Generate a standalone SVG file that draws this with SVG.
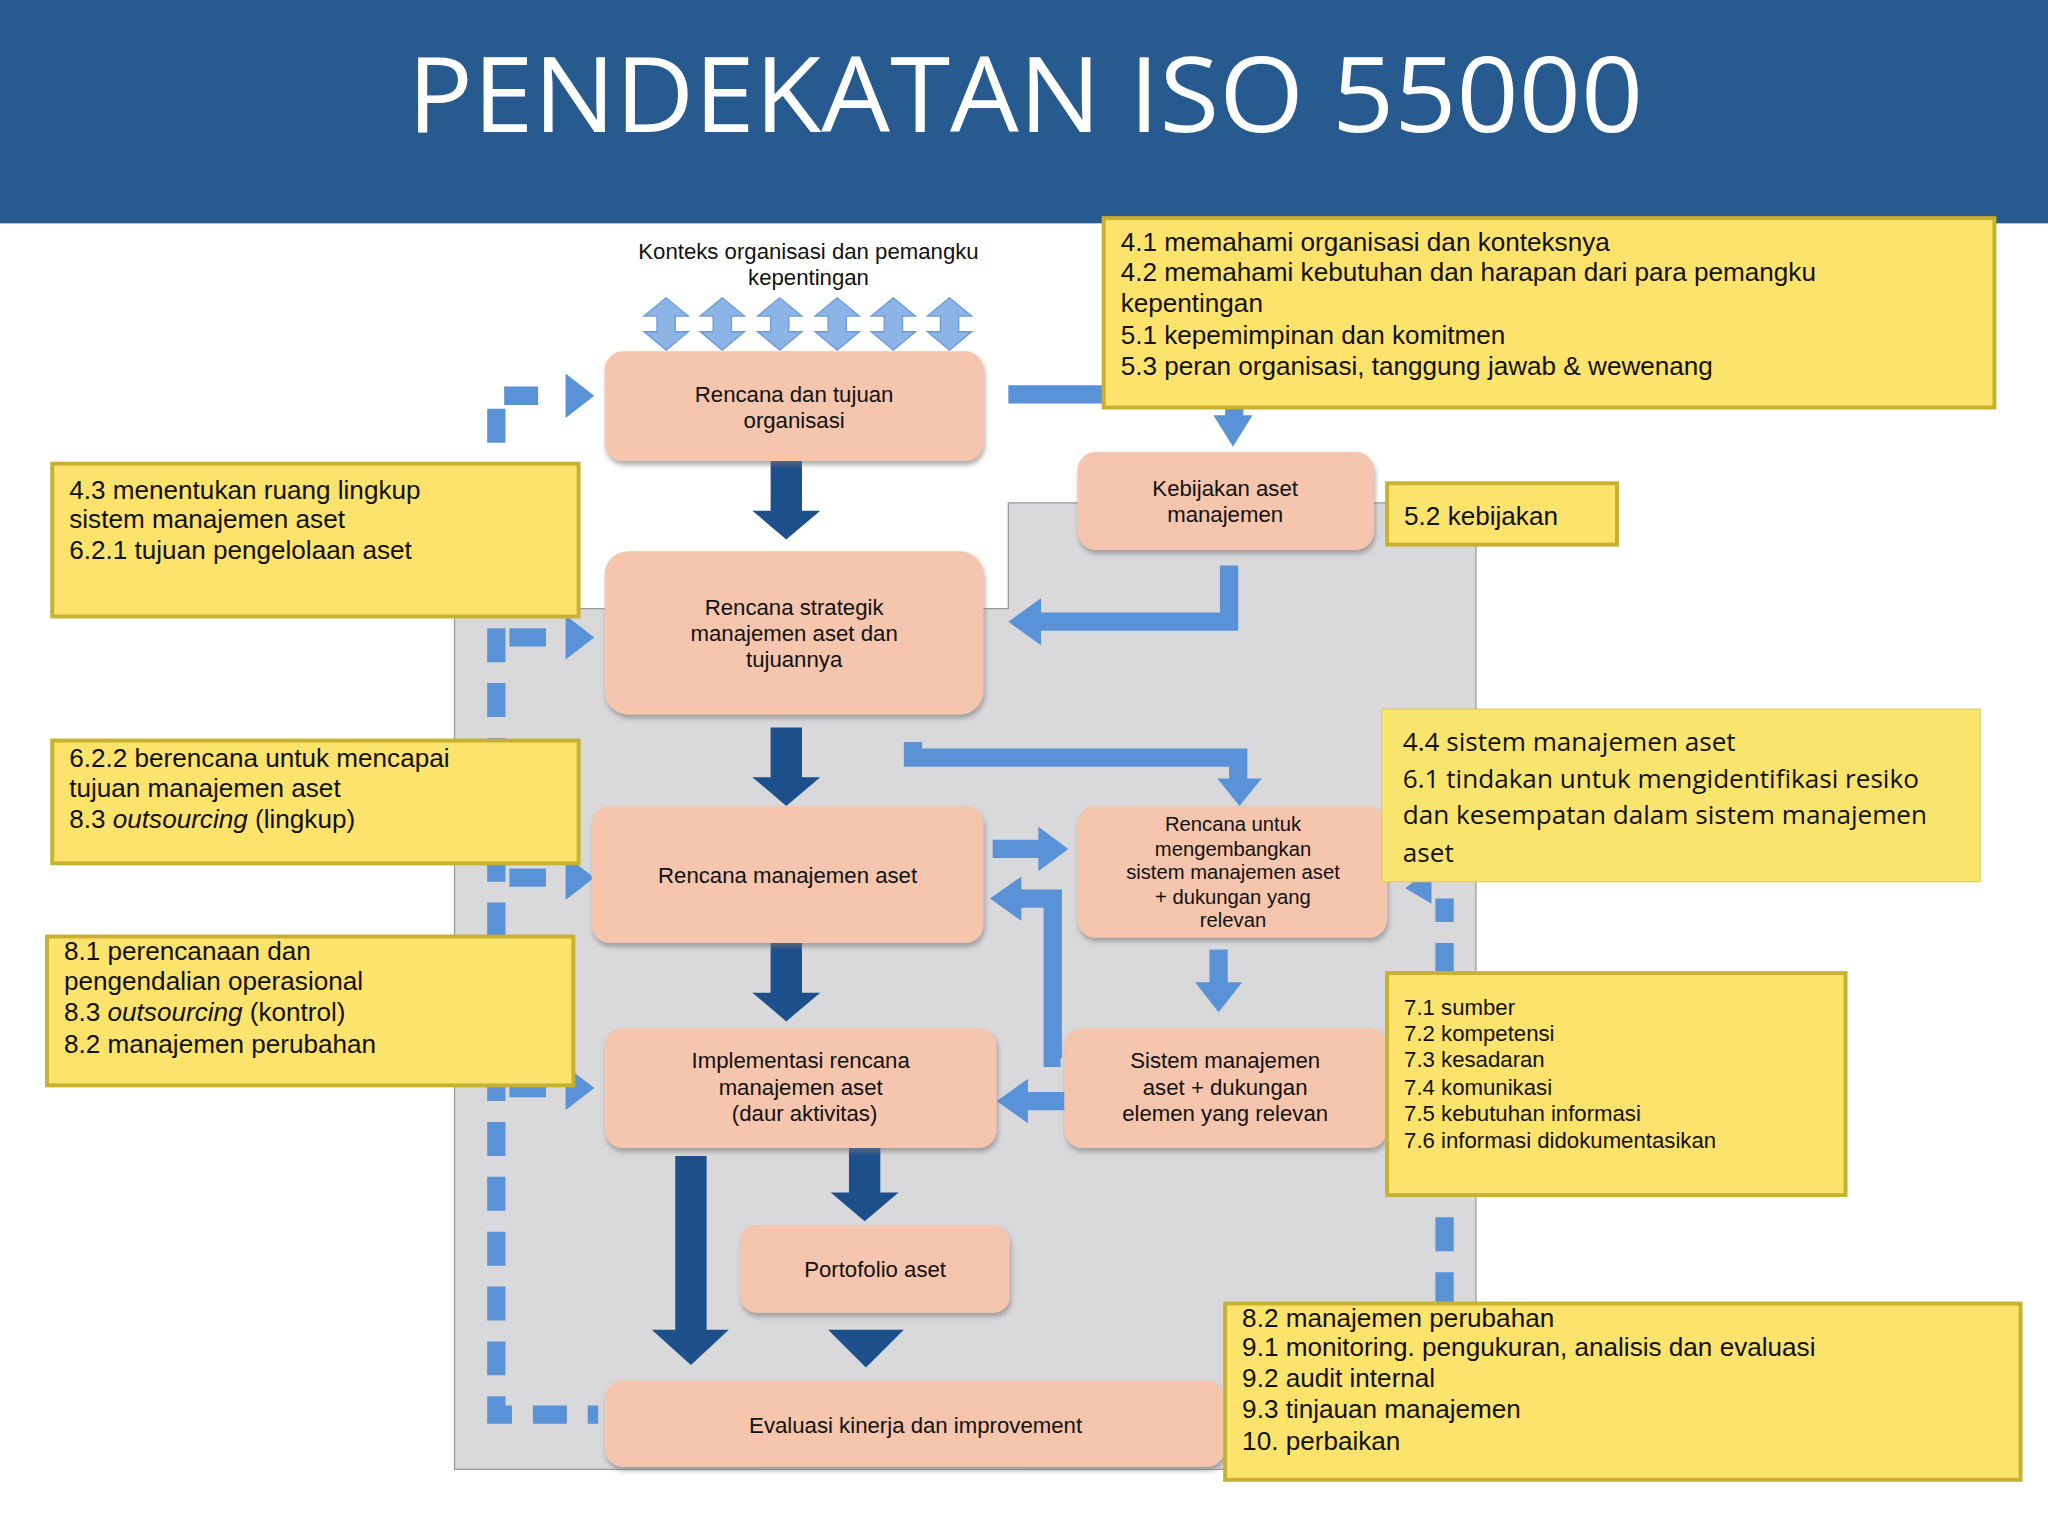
<svg xmlns="http://www.w3.org/2000/svg" width="2048" height="1536" viewBox="0 0 2048 1536">
<defs>
<style>
.t{font-family:"Liberation Sans",Arial,sans-serif;font-size:17px;fill:#111;text-anchor:middle}
.y{font-family:"Liberation Sans",Arial,sans-serif;font-size:20px;fill:#111}
.n{fill:#f5c5ad;filter:url(#sh)}
.b{fill:#fce36c;stroke:#c8b030;stroke-width:3}
.lb{fill:none;stroke:#5a92d8;stroke-width:14}
.ds{fill:none;stroke:#5a92d8;stroke-width:14;stroke-dasharray:26 16}
.hd{fill:#5a92d8}
.dk{fill:#1d4f8a}
</style>
<filter id="sh" x="-10%" y="-10%" width="120%" height="130%"><feDropShadow dx="1" dy="3" stdDeviation="2" flood-color="#777" flood-opacity="0.6"/></filter>
<path id="dbl" d="M0,-20 L-17,-6 L-7,-6 L-7,6 L-17,6 L0,20 L17,6 L7,6 L7,-6 L17,-6 Z" fill="#8db4e6" stroke="#6d9ad6" stroke-width="1"/>
<path id="da" d="M-12,0 L12,0 L12,38 L26,38 L0,60 L-26,38 L-12,38 Z" class="dk"/>
</defs>
<rect width="2048" height="1536" fill="#fff"/>
<g transform="scale(1.30612)">
<rect x="0" y="0" width="1568" height="171" fill="#275a8e"/>
<text x="785" y="101" font-family="'Open Sans','Noto Sans',sans-serif" font-size="80" fill="#fff" text-anchor="middle" textLength="946" lengthAdjust="spacingAndGlyphs">PENDEKATAN ISO 55000</text>
<polygon points="772,385 1130,385 1130,1125 348,1125 348,466 772,466" fill="#d9d9dc" stroke="#9a9a9a" stroke-width="1"/>
<text class="t" x="619" y="198">Konteks organisasi dan pemangku</text>
<text class="t" x="619" y="218">kepentingan</text>
<g id="ctx-arrows"><use href="#dbl" x="510" y="248"/><use href="#dbl" x="553" y="248"/><use href="#dbl" x="597" y="248"/><use href="#dbl" x="641" y="248"/><use href="#dbl" x="684" y="248"/><use href="#dbl" x="727" y="248"/></g>
<g id="connectors">
<use href="#da" x="602" y="353"/><use href="#da" x="602" y="557"/><use href="#da" x="602" y="722"/>
<path d="M517,885 L541,885 L541,1018 L558,1018 L529,1045 L499,1018 L517,1018 Z" class="dk"/>
<use href="#da" x="662" y="885" transform="translate(0,-10)"/>
<path d="M650,1018 L674,1018 L692,1018 L663,1047 L634,1018 Z" class="dk"/>
<polyline class="lb" points="772,302 945,302 945,322"/><path class="hd" d="M929,318 L959,318 L944,342 Z"/>
<polyline class="lb" points="941,433 941,476 795,476"/><path class="hd" d="M797,458 L797,494 L772,476 Z"/>
<polyline class="lb" points="699,568 699,580 948,580 948,598"/><path class="hd" d="M932,596 L966,596 L949,617 Z"/>
<line class="lb" x1="760" y1="650" x2="797" y2="650"/><path class="hd" d="M795,633 L795,667 L818,650 Z"/>
<polyline class="lb" points="812,810 806,810 806,688 780,688"/><path class="hd" d="M782,671 L782,705 L758,688 Z"/>
<line class="lb" x1="933" y1="727" x2="933" y2="755"/><path class="hd" d="M915,752 L951,752 L933,775 Z"/>
<line class="lb" x1="815" y1="843" x2="785" y2="843"/><path class="hd" d="M787,826 L787,860 L763,843 Z"/>
<polyline class="ds" points="412,303 380,303 380,1083 458,1083"/>
<path class="hd" d="M433,286 L455,303 L433,320 Z"/>
<line class="lb" x1="390" y1="488" x2="418" y2="488"/><path class="hd" d="M433,471 L455,488 L433,505 Z"/>
<line class="lb" x1="390" y1="672" x2="418" y2="672"/><path class="hd" d="M433,655 L455,672 L433,689 Z"/>
<line class="lb" x1="390" y1="833" x2="418" y2="833"/><path class="hd" d="M433,816 L455,833 L433,850 Z"/>
<polyline class="ds" points="1106,1000 1106,688"/>
<path class="hd" d="M1076,680 L1096,664 L1096,692 Z"/>
</g>
<g id="n1"><rect class="n" x="463" y="269" width="290" height="84" rx="14"/><text class="t" x="608" y="308">Rencana dan tujuan</text><text class="t" x="608" y="328">organisasi</text></g>
<g id="n2"><rect class="n" x="825" y="346" width="227" height="75" rx="14"/><text class="t" x="938" y="380">Kebijakan aset</text><text class="t" x="938" y="400">manajemen</text></g>
<g id="n3"><rect class="n" x="463" y="422" width="290" height="125" rx="18"/><text class="t" x="608" y="471">Rencana strategik</text><text class="t" x="608" y="491">manajemen aset dan</text><text class="t" x="608" y="511">tujuannya</text></g>
<g id="n4"><rect class="n" x="453" y="617" width="300" height="105" rx="14"/><text class="t" x="603" y="676">Rencana manajemen aset</text></g>
<g id="n5"><rect class="n" x="825" y="617" width="237" height="101" rx="14"/><g font-size="15.5"><text class="t" x="944" y="636" style="font-size:15.5px">Rencana untuk</text><text class="t" x="944" y="655" style="font-size:15.5px">mengembangkan</text><text class="t" x="944" y="673" style="font-size:15.5px">sistem manajemen aset</text><text class="t" x="944" y="692" style="font-size:15.5px">+ dukungan yang</text><text class="t" x="944" y="710" style="font-size:15.5px">relevan</text></g></g>
<g id="n6"><rect class="n" x="463" y="787" width="300" height="92" rx="14"/><text class="t" x="613" y="818">Implementasi rencana</text><text class="t" x="613" y="838">manajemen aset</text><text class="t" x="616" y="858">(daur aktivitas)</text></g>
<g id="n7"><rect class="n" x="815" y="787" width="247" height="92" rx="14"/><text class="t" x="938" y="818">Sistem manajemen</text><text class="t" x="938" y="838">aset + dukungan</text><text class="t" x="938" y="858">elemen yang relevan</text></g>
<g id="n8"><rect class="n" x="567" y="938" width="206" height="67" rx="12"/><text class="t" x="670" y="978">Portofolio aset</text></g>
<g id="n9"><rect class="n" x="463" y="1057" width="475" height="66" rx="14"/><text class="t" x="701" y="1097">Evaluasi kinerja dan improvement</text></g>
<g id="bA"><rect class="b" x="845" y="167" width="682" height="145"/><text class="y" x="858" y="192">4.1 memahami organisasi dan konteksnya</text><text class="y" x="858" y="215">4.2 memahami kebutuhan dan harapan dari para pemangku</text><text class="y" x="858" y="239">kepentingan</text><text class="y" x="858" y="263">5.1 kepemimpinan dan komitmen</text><text class="y" x="858" y="287">5.3 peran organisasi, tanggung jawab &amp; wewenang</text></g>
<g id="bB"><rect class="b" x="40" y="355" width="403" height="117"/><text class="y" x="53" y="382">4.3 menentukan ruang lingkup</text><text class="y" x="53" y="404">sistem manajemen aset</text><text class="y" x="53" y="428">6.2.1 tujuan pengelolaan aset</text></g>
<g id="bC"><rect class="b" x="1062" y="370" width="176" height="47"/><text class="y" x="1075" y="402">5.2 kebijakan</text></g>
<g id="bD"><rect x="1058" y="543" width="458" height="132" fill="#f9e56e" stroke="#e0cf60" stroke-width="1"/><g font-family="'Open Sans','Noto Sans',sans-serif" font-size="20" fill="#111"><text x="1074" y="575">4.4 sistem manajemen aset</text><text x="1074" y="603">6.1 tindakan untuk mengidentifikasi resiko</text><text x="1074" y="631">dan kesempatan dalam sistem manajemen</text><text x="1074" y="660">aset</text></g></g>
<g id="bE"><rect class="b" x="40" y="567" width="403" height="94"/><text class="y" x="53" y="587">6.2.2 berencana untuk mencapai</text><text class="y" x="53" y="610">tujuan manajemen aset</text><text class="y" x="53" y="634">8.3 <tspan font-style="italic">outsourcing</tspan> (lingkup)</text></g>
<g id="bF"><rect class="b" x="36" y="717" width="403" height="114"/><text class="y" x="49" y="735">8.1 perencanaan dan</text><text class="y" x="49" y="758">pengendalian operasional</text><text class="y" x="49" y="782">8.3 <tspan font-style="italic">outsourcing</tspan> (kontrol)</text><text class="y" x="49" y="806">8.2 manajemen perubahan</text></g>
<g id="bG"><rect class="b" x="1062" y="745" width="351" height="170"/><g style="font-size:17px"><text class="y" style="font-size:17px" x="1075" y="777">7.1 sumber</text><text class="y" style="font-size:17px" x="1075" y="797">7.2 kompetensi</text><text class="y" style="font-size:17px" x="1075" y="817">7.3 kesadaran</text><text class="y" style="font-size:17px" x="1075" y="838">7.4 komunikasi</text><text class="y" style="font-size:17px" x="1075" y="858">7.5 kebutuhan informasi</text><text class="y" style="font-size:17px" x="1075" y="879">7.6 informasi didokumentasikan</text></g></g>
<g id="bH"><rect class="b" x="938" y="998" width="609" height="135"/><text class="y" x="951" y="1016">8.2 manajemen perubahan</text><text class="y" x="951" y="1038">9.1 monitoring. pengukuran, analisis dan evaluasi</text><text class="y" x="951" y="1062">9.2 audit internal</text><text class="y" x="951" y="1086">9.3 tinjauan manajemen</text><text class="y" x="951" y="1110">10. perbaikan</text></g>
</g>
</svg>
